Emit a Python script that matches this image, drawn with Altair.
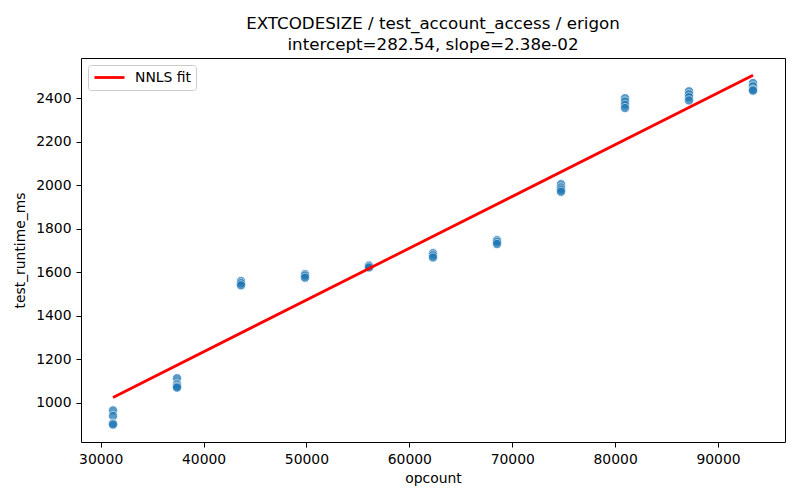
import altair as alt
import pandas as pd

# opcount clusters and measured runtimes
opcounts = [31200, 37420, 43640, 49860, 56080, 62300, 68520, 74740, 80960, 87180, 93400]
runtimes = [
    [965, 940, 905, 900],
    [1113, 1085, 1075, 1070],
    [1560, 1550, 1540],
    [1592, 1585, 1575],
    [1632, 1628, 1622],
    [1688, 1678, 1668],
    [1748, 1740, 1730],
    [2005, 1990, 1980, 1970],
    [2400, 2385, 2370, 2355],
    [2432, 2418, 2405, 2390],
    [2470, 2455, 2440, 2435],
]

fit_x = [31200, 93400]
fit_y = [1025.1, 2505.5]
fit_label = ["NNLS fit", "NNLS fit"]

title_lines = ["EXTCODESIZE / test_account_access / erigon",
               "intercept=282.54, slope=2.38e-02"]

rows = []
for x, ys in zip(opcounts, runtimes):
    for y in ys:
        rows.append({"opcount": x, "test_runtime_ms": y})
pts = pd.DataFrame(rows)
fit = pd.DataFrame({"opcount": fit_x, "test_runtime_ms": fit_y, "series": fit_label})

FONT = "DejaVu Sans"
xs = alt.Scale(domain=[28090, 96510], nice=False, zero=False)
ys_ = alt.Scale(domain=[820, 2585], nice=False, zero=False)

xaxis = alt.Axis(values=[30000, 40000, 50000, 60000, 70000, 80000, 90000], format="d",
                 grid=False, domain=False, tickColor="black", tickSize=5, tickWidth=1,
                 labelFontSize=13.9, labelFont=FONT, labelColor="black", labelPadding=5,
                 titleFontSize=13.9, titleFont=FONT, titleFontWeight="normal",
                 titleColor="black", titlePadding=6)
yaxis = alt.Axis(values=[1000, 1200, 1400, 1600, 1800, 2000, 2200, 2400], format="d",
                 grid=False, domain=False, tickColor="black", tickSize=5, tickWidth=1,
                 labelFontSize=13.9, labelFont=FONT, labelColor="black", labelPadding=5,
                 titleFontSize=13.9, titleFont=FONT, titleFontWeight="normal",
                 titleColor="black", titlePadding=8)

points = alt.Chart(pts).mark_circle(size=85, color="#1f77b4", opacity=0.75,
                                    stroke="white", strokeWidth=0.75).encode(
    x=alt.X("opcount:Q", scale=xs, axis=xaxis, title="opcount"),
    y=alt.Y("test_runtime_ms:Q", scale=ys_, axis=yaxis, title="test_runtime_ms"),
)

line = alt.Chart(fit).mark_line(strokeWidth=2.8).encode(
    x=alt.X("opcount:Q", scale=xs),
    y=alt.Y("test_runtime_ms:Q", scale=ys_),
    color=alt.Color("series:N", scale=alt.Scale(range=["red"]),
                    legend=alt.Legend(title=None, orient="top-left", offset=7,
                                      symbolType="stroke", symbolStrokeWidth=2.8,
                                      symbolSize=900, clipHeight=15,
                                      labelFontSize=13.9, labelFont=FONT,
                                      labelColor="black", labelOffset=9,
                                      fillColor="white", strokeColor="#cccccc",
                                      cornerRadius=3, padding=5)),
)

chart = alt.layer(points, line).properties(
    width=704, height=384,
    autosize=alt.AutoSizeParams(type="none"),
    padding={"left": 73, "top": 50, "right": 7, "bottom": 50},
    title=alt.TitleParams(text=title_lines, fontSize=16.7, font=FONT, fontWeight="normal",
                          color="black", anchor="middle", lineHeight=21, offset=4),
).configure(background="white").configure_view(stroke="black", strokeWidth=1)

chart.save("out.html", embed_options={"renderer": "svg", "actions": False})
